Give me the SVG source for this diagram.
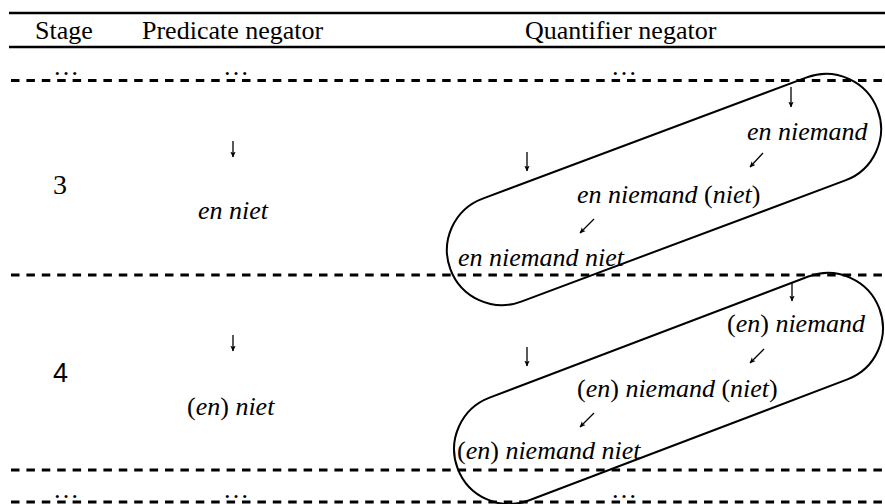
<svg xmlns="http://www.w3.org/2000/svg" width="885" height="504" viewBox="0 0 885 504">
<style>
text{font-family:"Liberation Serif","Times New Roman",serif;font-size:26px;fill:#000}
.it{font-style:italic}
.up{font-style:normal}
.dig{font-size:28px}
.sans{font-family:"Liberation Sans",Arial,sans-serif;font-size:27px}
.dots{font-size:26px}
.solid{stroke:#000;stroke-width:2.5;fill:none}
.dash{stroke:#000;stroke-width:2.8;stroke-dasharray:8.5 6.9;fill:none}
.cap{stroke:#000;stroke-width:2;fill:none}
.arr{stroke:#000;stroke-width:1.3;fill:none;marker-end:url(#ah)}
</style>
<defs>
<marker id="ah" viewBox="0 0 10 10" refX="9" refY="5" markerWidth="6" markerHeight="6" markerUnits="userSpaceOnUse" orient="auto">
<path d="M0,0.5 L10,5 L0,9.5 L2.5,5 z" fill="#000"/>
</marker>
</defs>
<rect width="885" height="504" fill="#fff"/>
<g id="rules">
<line class="solid" x1="9" y1="13" x2="885" y2="13"/>
<line class="solid" x1="9" y1="47" x2="885" y2="47"/>
<line class="dash" x1="11" y1="80.5" x2="885" y2="80.5"/>
<line class="dash" x1="11" y1="275" x2="885" y2="275"/>
<line class="dash" x1="11" y1="470" x2="885" y2="470"/>
<line class="dash" x1="11" y1="502" x2="885" y2="502"/>
</g>
<g id="header">
<text x="35" y="39">Stage</text>
<text x="142" y="39">Predicate negator</text>
<text x="525" y="39">Quantifier negator</text>
</g>
<g id="ellipses">
<text class="dots" x="53" y="75">…</text>
<text class="dots" x="223" y="75">…</text>
<text class="dots" x="611" y="75">…</text>
<text class="dots" x="53" y="498">…</text>
<text class="dots" x="223" y="498">…</text>
<text class="dots" x="611" y="498">…</text>
</g>
<g id="stage3">
<text class="dig" x="53" y="194">3</text>
</g>
<g id="stage4">
<text class="sans" x="53" y="382">4</text>
</g>
<g id="pred3"><text class="it" x="198" y="219">en niet</text></g>
<g id="pred4"><text x="187" y="415"><tspan class="up">(</tspan><tspan class="it">en</tspan>) <tspan class="it">niet</tspan></text></g>
<g id="q3a"><text class="it" x="747" y="140">en niemand</text></g>
<g id="q3b"><text x="577" y="203"><tspan class="it">en niemand </tspan>(<tspan class="it">niet</tspan>)</text></g>
<g id="q3c"><text class="it" x="458" y="266">en niemand niet</text></g>
<g id="q4a"><text x="727" y="332">(<tspan class="it">en</tspan>) <tspan class="it">niemand</tspan></text></g>
<g id="q4b"><text x="577" y="397">(<tspan class="it">en</tspan>) <tspan class="it">niemand </tspan>(<tspan class="it">niet</tspan>)</text></g>
<g id="q4c"><text x="457" y="459">(<tspan class="it">en</tspan>) <tspan class="it">niemand niet</tspan></text></g>
<g id="capsule3">
<rect class="cap" x="436" y="134.5" width="456" height="110" rx="55" ry="55" transform="rotate(-20.5 664 189.5)"/>
</g>
<g id="capsule4">
<rect class="cap" x="443" y="333.5" width="451" height="110" rx="55" ry="55" transform="rotate(-20.8 668.5 388.5)"/>
</g>
<g id="connectors">
<line class="arr" x1="233" y1="141" x2="233" y2="157"/>
<line class="arr" x1="233" y1="335" x2="233" y2="351"/>
<line class="arr" x1="791" y1="87" x2="791" y2="107"/>
<line class="arr" x1="527" y1="152" x2="527" y2="171"/>
<line class="arr" x1="763" y1="153" x2="750" y2="167"/>
<line class="arr" x1="594" y1="219" x2="580" y2="233"/>
<line class="arr" x1="792" y1="283" x2="792" y2="301"/>
<line class="arr" x1="527" y1="347" x2="527" y2="366"/>
<line class="arr" x1="764" y1="349" x2="750" y2="363"/>
<line class="arr" x1="594" y1="413" x2="580" y2="427"/>
</g>
</svg>
